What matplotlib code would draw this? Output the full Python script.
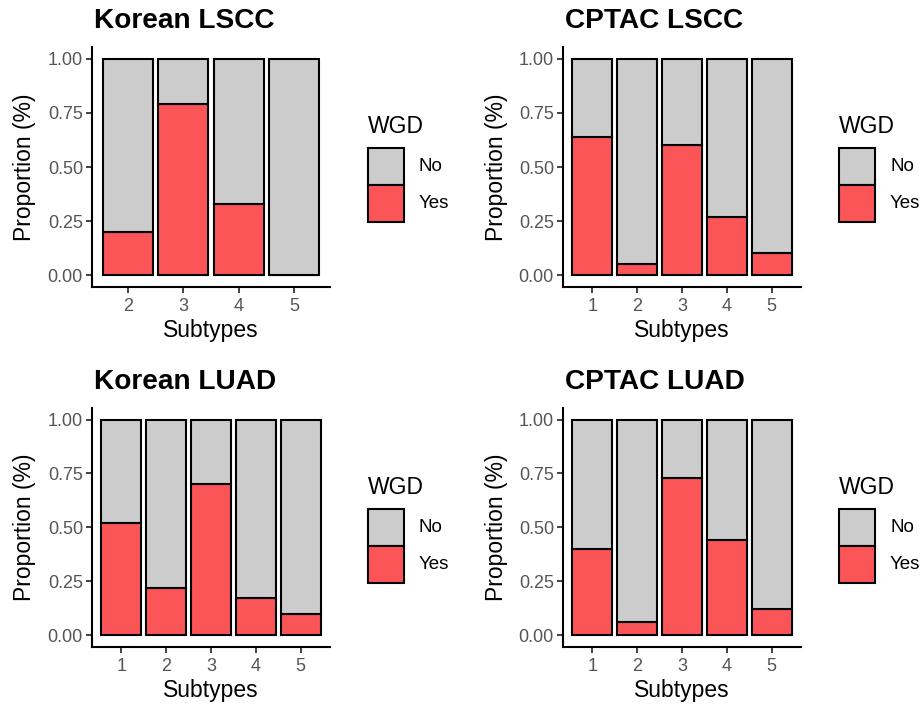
import matplotlib
matplotlib.use("Agg")
import matplotlib.pyplot as plt
from matplotlib.patches import Rectangle
import numpy as np

plt.rcParams['font.family'] = ['Liberation Sans', 'DejaVu Sans']

# ---- data ----
titles = ["Korean LSCC", "CPTAC LSCC", "Korean LUAD", "CPTAC LUAD"]
korean_lscc_subtypes = ["2", "3", "4", "5"]
korean_lscc_yes = [0.20, 0.79, 0.33, 0.00]
cptac_lscc_subtypes = ["1", "2", "3", "4", "5"]
cptac_lscc_yes = [0.64, 0.05, 0.60, 0.27, 0.10]
korean_luad_subtypes = ["1", "2", "3", "4", "5"]
korean_luad_yes = [0.52, 0.22, 0.70, 0.17, 0.10]
cptac_luad_subtypes = ["1", "2", "3", "4", "5"]
cptac_luad_yes = [0.40, 0.06, 0.73, 0.44, 0.12]
legend_title = "WGD"
legend_labels = ["No", "Yes"]
y_ticks = [0.0, 0.25, 0.50, 0.75, 1.00]

panels = [
    (korean_lscc_subtypes, korean_lscc_yes),
    (cptac_lscc_subtypes, cptac_lscc_yes),
    (korean_luad_subtypes, korean_luad_yes),
    (cptac_luad_subtypes, cptac_luad_yes),
]

# ---- style ----
W, H = 924, 708
GREY = "#CCCCCC"
RED = "#FB5558"
TICKCOL = "#555555"

fig = plt.figure(figsize=(W / 100, H / 100), dpi=100)

def fx(x):
    return x / W

def fy(y):
    return 1 - y / H

col_left = [92, 563]
row_top = [47.3, 408.0]
row_bottom = [286.7, 646.7]
panel_w = 238

for i, (cats, yes) in enumerate(panels):
    r, c = divmod(i, 2)
    L = col_left[c]
    T = row_top[r]
    B = row_bottom[r]
    ax = fig.add_axes([fx(L), fy(B), panel_w / W, (B - T) / H])
    x = np.arange(len(cats))
    yes = np.array(yes)
    no = 1 - yes
    ax.bar(x, yes, width=0.9, color=RED, edgecolor="black", linewidth=1.5, zorder=2)
    ax.bar(x, no, bottom=yes, width=0.9, color=GREY, edgecolor="black", linewidth=1.5, zorder=2)
    ax.set_xlim(-0.65, len(cats) - 1 + 0.65)
    ax.set_ylim(-0.054, 1.054)
    ax.set_xticks(x)
    ax.set_xticklabels(cats)
    ax.set_yticks(y_ticks)
    ax.set_yticklabels([f"{v:.2f}" for v in y_ticks])
    for s in ["top", "right"]:
        ax.spines[s].set_visible(False)
    for s in ["left", "bottom"]:
        ax.spines[s].set_linewidth(1.5)
        ax.spines[s].set_color("black")
    ax.tick_params(axis="both", colors="#333333", labelcolor=TICKCOL, labelsize=13,
                   length=4, width=1.3)
    ax.tick_params(axis="x", pad=4)
    ax.tick_params(axis="y", pad=2.5)

    # title
    fig.text(fx(L + 2), fy(28 + 361 * r), titles[i], fontsize=20.2, fontweight="bold",
             ha="left", va="baseline")
    # axis labels
    fig.text(fx(L + panel_w / 2), fy(337.5 + 360 * r), "Subtypes", fontsize=16.5,
             ha="center", va="baseline")
    fig.text(fx(L - 67), fy((T + B) / 2), "Proportion (%)", fontsize=16.5,
             rotation=90, ha="center", va="center")

    # legend
    lx = L + 276
    ty = 115 + 361 * r
    fig.text(fx(lx), fy(ty), legend_title, fontsize=16.5, ha="left", va="top")
    key_top = 148 + 361 * r
    kw, kh = 36, 37
    for j, (lab, colr) in enumerate(zip(legend_labels, [GREY, RED])):
        yt = key_top + j * kh
        fig.add_artist(Rectangle((fx(lx), fy(yt + kh)), kw / W, kh / H,
                                 transform=fig.transFigure, facecolor=colr,
                                 edgecolor="black", linewidth=1.5))
        fig.text(fx(lx + kw + 15), fy(yt + kh / 2), lab, fontsize=13.5,
                 ha="left", va="center")

fig.savefig("out.png", dpi=100)
